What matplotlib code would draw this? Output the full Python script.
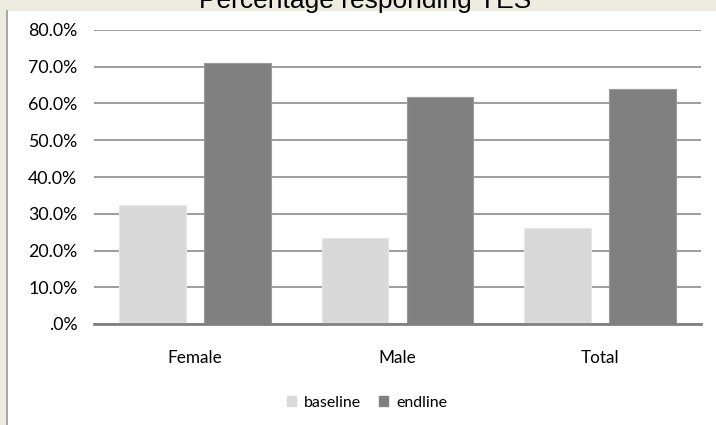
import matplotlib
matplotlib.use("Agg")
import matplotlib.pyplot as plt
from matplotlib.patches import Rectangle, Patch
from matplotlib.lines import Line2D
from matplotlib.ticker import FuncFormatter
import numpy as np

categories = ["Female", "Male", "Total"]
baseline = [32.5, 23.4, 26.1]
endline = [71.1, 61.7, 64.0]
series_names = ["baseline", "endline"]
title = "Percentage responding YES"

W, H = 716, 425
fig = plt.figure(figsize=(W / 100, H / 100), dpi=100)
fig.patch.set_facecolor("#EEECE1")

# white chart area with a grey frame line on its left side
fig.patches.append(Rectangle((8 / W, 0), 1 - 8 / W, 1 - 11 / H, transform=fig.transFigure,
                             facecolor="white", edgecolor="none", zorder=-5))
fig.lines.append(Line2D([7.5 / W, 7.5 / W], [0, 1 - 11 / H], transform=fig.transFigure,
                        color="#A6A6A6", lw=1.4, zorder=-4))

fig.text(365 / W, 1 - 8 / H, title, ha="center", va="baseline",
         fontsize=19, family="Liberation Sans", color="black")

ax = fig.add_axes([94 / W, 1 - 324 / H, 607 / W, 294 / H])
ax.set_zorder(2)
ax.set_facecolor("none")

x = np.arange(len(categories))
bw = 0.33
off = 0.21
ax.bar(x - off, baseline, bw, color="#D9D9D9", edgecolor="#E6E6E6", lw=0.8, zorder=3,
       label=series_names[0])
ax.bar(x + off, endline, bw, color="#808080", edgecolor="#9A9A9A", lw=0.8, zorder=3,
       label=series_names[1])

ax.set_xlim(-0.5, len(categories) - 0.5)
ax.set_ylim(0, 80)
ax.set_yticks(np.arange(0, 81, 10))
ax.yaxis.set_major_formatter(FuncFormatter(lambda v, p: ".0%" if v == 0 else f"{v:.1f}%"))
ax.set_xticks(x)
ax.set_xticklabels(categories)

ax.grid(axis="y", color="#8C8C8C", lw=1.2, zorder=1)
ax.set_axisbelow(True)
for s in ["top", "right", "left"]:
    ax.spines[s].set_visible(False)
ax.spines["bottom"].set_color("#808080")
ax.spines["bottom"].set_linewidth(2.0)
ax.spines["bottom"].set_zorder(4)

ax.tick_params(axis="y", length=0, pad=12, labelsize=12.8, labelcolor="black")
ax.tick_params(axis="x", length=0, pad=19, labelsize=12.3, labelcolor="black")
for lab in ax.get_xticklabels() + ax.get_yticklabels():
    lab.set_family("Lato")

handles = [Patch(facecolor="#D9D9D9", edgecolor="#D9D9D9"),
           Patch(facecolor="#808080", edgecolor="#808080")]
fig.legend(handles, series_names, loc="center", bbox_to_anchor=(367 / W, 1 - 403 / H),
           ncol=2, frameon=False, prop={"family": "Lato", "size": 11.5},
           handlelength=0.6, handleheight=0.6, handletextpad=0.5, columnspacing=1.1)

fig.savefig("out.png", dpi=100, facecolor=fig.get_facecolor())
